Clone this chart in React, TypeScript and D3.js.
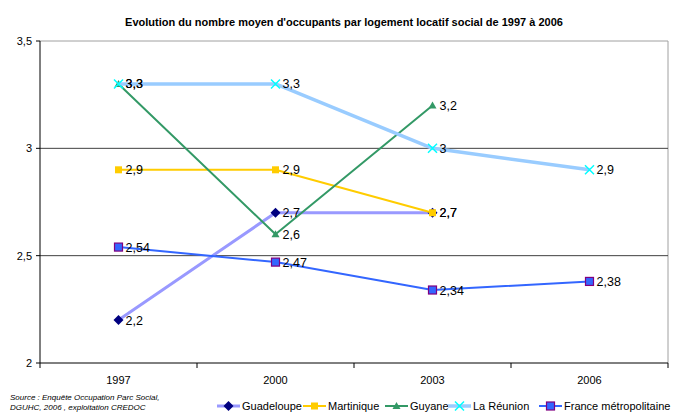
import React from "react";
import * as d3 from "d3";

const years = ["1997", "2000", "2003", "2006"];
const yTicks = [2, 2.5, 3, 3.5];
const guadeloupe = [2.2, 2.7, 2.7, null];
const martinique = [2.9, 2.9, 2.7, null];
const guyane = [3.3, 2.6, 3.2, null];
const reunion = [3.3, 3.3, 3.0, 2.9];
const france = [2.54, 2.47, 2.34, 2.38];
const seriesNames = ["Guadeloupe", "Martinique", "Guyane", "La Réunion", "France métropolitaine"];
const title = "Evolution du nombre moyen d'occupants par logement locatif social de 1997 à 2006";
const sourceLines = ["Source : Enquête Occupation Parc Social,", "DGUHC, 2006 , exploitation CREDOC"];

type Marker = "diamond" | "square" | "triangle" | "x" | "bigsquare";
interface S { name: string; values: (number | null)[]; line: string; lw: number; marker: Marker; fill: string; stroke: string; }

const series: S[] = [
  { name: seriesNames[0], values: guadeloupe, line: "#9999FF", lw: 3, marker: "diamond", fill: "#000080", stroke: "#000080" },
  { name: seriesNames[1], values: martinique, line: "#FFCC00", lw: 2, marker: "square", fill: "#FFCC00", stroke: "#FFCC00" },
  { name: seriesNames[2], values: guyane, line: "#339966", lw: 2, marker: "triangle", fill: "#339966", stroke: "#339966" },
  { name: seriesNames[3], values: reunion, line: "#99CCFF", lw: 3.5, marker: "x", fill: "none", stroke: "#00FFFF" },
  { name: seriesNames[4], values: france, line: "#3366FF", lw: 2, marker: "bigsquare", fill: "#3366FF", stroke: "#800080" },
];

const fmt = (v: number) => String(v).replace(".", ",");

function MarkerShape({ m, x, y, fill, stroke }: { m: Marker; x: number; y: number; fill: string; stroke: string }) {
  switch (m) {
    case "diamond":
      return <path d={`M${x},${y - 5}L${x + 5},${y}L${x},${y + 5}L${x - 5},${y}Z`} fill={fill} />;
    case "square":
      return <rect x={x - 3.5} y={y - 3.5} width={7} height={7} fill={fill} />;
    case "triangle":
      return <path d={`M${x},${y - 4}L${x + 4},${y + 3}L${x - 4},${y + 3}Z`} fill={fill} />;
    case "x":
      return <path d={`M${x - 4.5},${y - 4.5}L${x + 4.5},${y + 4.5}M${x + 4.5},${y - 4.5}L${x - 4.5},${y + 4.5}`} stroke={stroke} strokeWidth={1.5} fill="none" />;
    case "bigsquare":
      return <rect x={x - 4} y={y - 4} width={8} height={8} fill={fill} stroke={stroke} strokeWidth={1.2} />;
  }
}

export default function App() {
  const W = 674, H = 412;
  const left = 40, right = 668, top = 41, bottom = 363;
  const xBand = d3.scaleBand<string>().domain(years).range([left, right]).padding(0);
  const xc = (i: number) => (xBand(years[i]) as number) + xBand.bandwidth() / 2;
  const y = d3.scaleLinear().domain([2, 3.5]).range([bottom, top]);
  const font = "Arial, 'Liberation Sans', sans-serif";

  const lineGen = d3.line<[number, number]>().x(d => d[0]).y(d => d[1]);
  const pts = (s: S) => s.values.map((v, i) => (v == null ? null : [xc(i), y(v)] as [number, number])).filter(Boolean) as [number, number][];

  const legendX = [217, 303, 385, 448, 539];

  return (
    <svg width={W} height={H} style={{ position: "absolute", left: 0, top: 0, background: "#fff" }} fontFamily={font}>
      <rect x={0} y={0} width={W} height={H} fill="#fff" />
      <text x={344} y={26} textAnchor="middle" fontSize={11} fontWeight="bold" fill="#000">{title}</text>
      {/* plot borders */}
      <line x1={left} x2={right} y1={top} y2={top} stroke="#a0a0a0" strokeWidth={1} />
      <line x1={right} x2={right} y1={top} y2={bottom} stroke="#a0a0a0" strokeWidth={1} />
      {yTicks.filter(t => t > 2 && t < 3.5).map(t => (
        <line key={t} x1={left} x2={right} y1={y(t)} y2={y(t)} stroke="#404040" strokeWidth={1} />
      ))}
      <line x1={left} x2={left} y1={top} y2={bottom} stroke="#000" strokeWidth={1} />
      <line x1={left} x2={right} y1={bottom} y2={bottom} stroke="#000" strokeWidth={1} />
      {yTicks.map(t => (
        <g key={t}>
          <line x1={left - 4} x2={left} y1={y(t)} y2={y(t)} stroke="#000" />
          <text x={left - 8} y={y(t) + 4} textAnchor="end" fontSize={11} fill="#000">{fmt(t)}</text>
        </g>
      ))}
      {d3.range(years.length + 1).map(i => {
        const xx = left + i * xBand.bandwidth();
        return <line key={i} x1={xx} x2={xx} y1={bottom} y2={bottom + 5} stroke="#000" />;
      })}
      {years.map((yr, i) => (
        <text key={yr} x={xc(i)} y={384} textAnchor="middle" fontSize={11} fill="#000">{yr}</text>
      ))}
      {/* lines and markers */}
      {series.map(s => (
        <g key={s.name}>
          <path d={lineGen(pts(s)) || ""} fill="none" stroke={s.line} strokeWidth={s.lw} strokeLinejoin="round" />
          {pts(s).map((p, i) => (
            <MarkerShape key={i} m={s.marker} x={p[0]} y={p[1]} fill={s.fill} stroke={s.stroke} />
          ))}
        </g>
      ))}
      {/* data labels */}
      {series.map(s => (
        <g key={s.name + "l"}>
          {s.values.map((v, i) => v == null ? null : (
            <text key={i} x={xc(i) + 7} y={y(v) + 4.5} fontSize={12.5} fill="#000">{fmt(v)}</text>
          ))}
        </g>
      ))}
      {/* source */}
      {sourceLines.map((l, i) => (
        <text key={i} x={10} y={400 + i * 9.5} fontSize={8} fontStyle="italic" fill="#000">{l}</text>
      ))}
      {/* legend */}
      {series.map((s, i) => {
        const lx = legendX[i];
        return (
          <g key={s.name + "leg"}>
            <line x1={lx} x2={lx + 23} y1={406} y2={406} stroke={s.line} strokeWidth={s.lw} />
            <MarkerShape m={s.marker} x={lx + 11.5} y={406} fill={s.fill} stroke={s.stroke} />
            <text x={lx + 25} y={410} fontSize={11} fill="#000">{s.name}</text>
          </g>
        );
      })}
    </svg>
  );
}
